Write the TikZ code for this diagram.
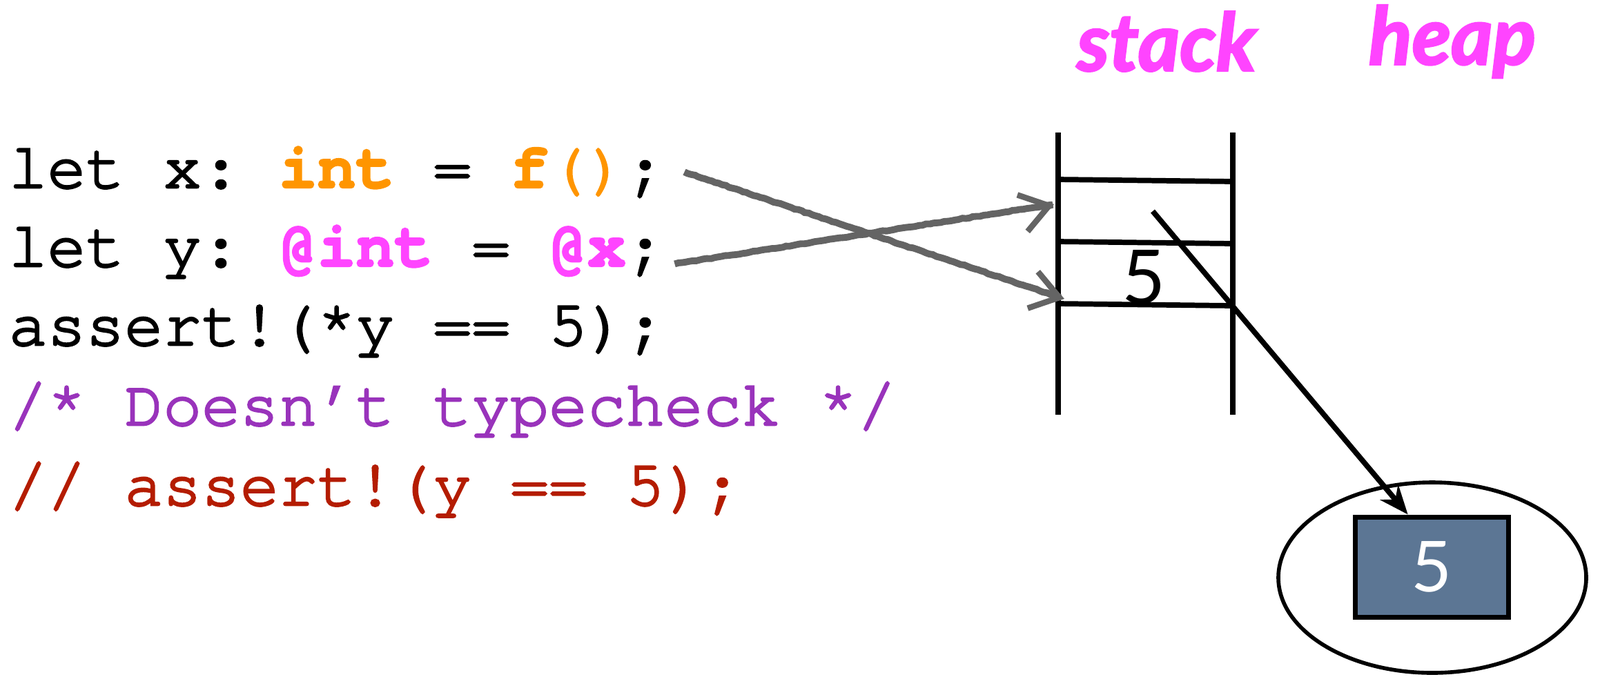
\documentclass[tikz,border=0pt]{standalone}
\usepackage{fontspec}
\setmonofont{TeX Gyre Cursor}[UprightFeatures={FakeBold=3}, BoldFeatures={FakeBold=2.5}]
\newfontfamily\labelfont{Lato}
\newfontfamily\headfont{Lato}[FakeBold=2.5]
\usetikzlibrary{arrows.meta,shapes.geometric,decorations.pathmorphing,calc}

\definecolor{kworange}{RGB}{255,149,0}
\definecolor{kwpink}{RGB}{255,68,255}
\definecolor{cmtpurple}{RGB}{153,51,187}
\definecolor{cmtred}{RGB}{180,28,0}
\definecolor{pencil}{RGB}{100,100,100}
\definecolor{boxslate}{RGB}{92,118,148}

\tikzset{
  code/.style={anchor=base west, inner sep=0pt,
    font=\ttfamily\fontsize{26.5}{30}\selectfont},
  title/.style={text=kwpink, font=\headfont\bfseries\itshape\fontsize{33}{36}\selectfont},
  rail/.style={line width=2.2pt},
  pencilarrow/.style={pencil, line width=2.8pt,
    decorate, decoration={random steps, segment length=1.5pt, amplitude=0.2pt},
    -{Straight Barb[length=0.4cm, width=0.55cm, line width=2.4pt]}},
  pointer/.style={line width=2.2pt, -{Stealth[length=0.42cm, width=0.34cm]}}
}

\begin{document}
\begin{tikzpicture}
\useasboundingbox (0,0) rectangle (23.18,-9.8);

% Code
\node[code] (l1) at (0.12,-2.72) {let x: {\color{kworange}\bfseries int} = {\color{kworange}\bfseries f}{\color{kworange}()};};
\node[code] (l2) at (0.12,-3.86) {let y: {\color{kwpink}\bfseries @int} = {\color{kwpink}\bfseries @x};};
\node[code] (l3) at (0.12,-5.00) {assert!(*y == 5);};
\node[code, text=cmtpurple] (l4) at (0.12,-6.16) {/* Doesn’t typecheck */};
\node[code, text=cmtred] (l5) at (0.12,-7.32) {// assert!(y == 5);};

% Headings
\node[title] (stacklbl) at (16.9,-0.6) {stack};
\node[title] (heaplbl) at (21.04,-0.6) {heap};

% Stack
\draw[rail] (15.33,-1.92) -- (15.33,-6.01);
\draw[rail] (17.86,-1.92) -- (17.86,-6.01);
\foreach \y in {-2.60,-3.50,-4.40}
  \draw[rail] (15.33,\y) -- (17.86,\y-0.03);
\coordinate (slotx) at (15.42,-4.33);
\coordinate (sloty) at (15.27,-2.96);
\coordinate (ptr) at (16.70,-3.06);
\node[font=\labelfont\fontsize{31}{33}\selectfont] (xval) at (16.57,-4.02) {5};

% Heap
\node[draw, ellipse, line width=1.6pt, minimum width=4.46cm, minimum height=2.76cm, inner sep=0pt] (heap) at (20.75,-8.37) {};
\node[draw, line width=2pt, fill=boxslate, minimum width=2.22cm, minimum height=1.45cm, inner sep=0pt,
  text=white, font=\labelfont\fontsize{29}{31}\selectfont] (heapval) at (20.74,-8.215) {5};

% Arrows
\draw[pencilarrow] ([xshift=8pt]l1.east) -- (slotx);
\draw[pencilarrow] ([xshift=4pt,yshift=-5pt]l2.east) -- (sloty);
\draw[pointer] (ptr) -- ($(heapval.north west)!0.35!(heapval.north east)$);
\end{tikzpicture}
\end{document}
